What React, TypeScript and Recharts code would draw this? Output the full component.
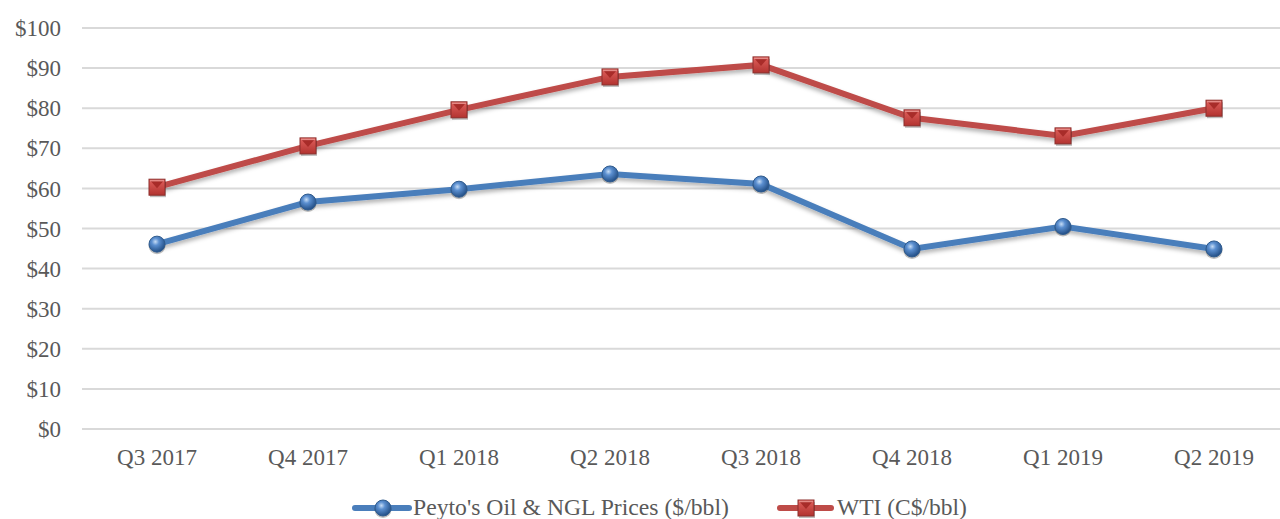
import { CartesianGrid, Legend, Line, LineChart, XAxis, YAxis } from "recharts"

const quarters = [
  "Q3 2017",
  "Q4 2017",
  "Q1 2018",
  "Q2 2018",
  "Q3 2018",
  "Q4 2018",
  "Q1 2019",
  "Q2 2019",
]
const peytoPrices = [46.1, 56.6, 59.8, 63.6, 61.1, 44.9, 50.5, 44.9]
const wtiPrices = [60.3, 70.6, 79.6, 87.8, 90.8, 77.6, 73.1, 80.0]
const priceTicks = [0, 10, 20, 30, 40, 50, 60, 70, 80, 90, 100]

const PEYTO_NAME = "Peyto's Oil & NGL Prices ($/bbl)"
const WTI_NAME = "WTI (C$/bbl)"

const data = quarters.map((quarter, i) => ({
  quarter,
  peyto: peytoPrices[i],
  wti: wtiPrices[i],
}))

const FONT = '"Liberation Serif", "Times New Roman", serif'
const TEXT = "#595959"
const BLUE = "#4a7ebb"
const RED = "#be4b48"

function Sphere({ cx, cy }: { cx: number; cy: number }) {
  return (
    <g>
      <circle cx={cx} cy={cy + 1.5} r={8.5} fill="rgba(0,0,0,0.25)" />
      <circle cx={cx} cy={cy} r={8} fill="url(#sphereFill)" stroke="#2f5b8e" strokeWidth={1} />
    </g>
  )
}

function Pyramid({ cx, cy }: { cx: number; cy: number }) {
  const s = 8
  return (
    <g>
      <rect x={cx - s + 1} y={cy - s + 2} width={2 * s} height={2 * s} fill="rgba(0,0,0,0.25)" />
      <rect x={cx - s} y={cy - s} width={2 * s} height={2 * s} fill="url(#squareFill)" stroke="#8c2f2c" strokeWidth={1} />
      <polygon
        points={`${cx - s + 1},${cy - s + 1} ${cx + s - 1},${cy - s + 1} ${cx},${cy + 1}`}
        fill="#a82c29"
      />
      <line x1={cx - s + 1} y1={cy - s + 1.5} x2={cx + s - 1} y2={cy - s + 1.5} stroke="#e58a86" strokeWidth={1.5} />
    </g>
  )
}

function ChartLegend() {
  return (
    <svg width={1280} height={40} style={{ display: "block" }}>
      <line x1={355} y1={29} x2={409} y2={29} stroke={BLUE} strokeWidth={6} strokeLinecap="round" />
      <Sphere cx={383} cy={29} />
      <text x={413} y={36} fontFamily={FONT} fontSize={23.7} fill={TEXT}>
        {PEYTO_NAME}
      </text>
      <line x1={780} y1={29} x2={831} y2={29} stroke={RED} strokeWidth={6} strokeLinecap="round" />
      <Pyramid cx={806} cy={29} />
      <text x={837} y={36} fontFamily={FONT} fontSize={23.5} fill={TEXT}>
        {WTI_NAME}
      </text>
    </svg>
  )
}

export default function App() {
  return (
    <div
      style={{
        position: "absolute",
        left: 0,
        top: 0,
        width: 1280,
        height: 519,
        overflow: "hidden",
        background: "#fff",
      }}
    >
      <LineChart
        width={1300}
        height={519}
        data={data}
        margin={{ top: 28, right: 11, left: 0, bottom: 0 }}
      >
        <defs>
          <radialGradient id="sphereFill" cx="40%" cy="35%" r="65%">
            <stop offset="0%" stopColor="#c6dcf5" />
            <stop offset="35%" stopColor="#5b8fd0" />
            <stop offset="100%" stopColor="#234f86" />
          </radialGradient>
          <linearGradient id="squareFill" x1="0" y1="0" x2="0" y2="1">
            <stop offset="0%" stopColor="#e0605c" />
            <stop offset="100%" stopColor="#b23330" />
          </linearGradient>
          <filter id="lineShadow" x="-5%" y="-20%" width="110%" height="140%">
            <feDropShadow dx="0" dy="3" stdDeviation="2" floodColor="#000" floodOpacity="0.3" />
          </filter>
        </defs>
        <CartesianGrid vertical={false} stroke="#d9d9d9" strokeWidth={2} />
        <XAxis
          dataKey="quarter"
          height={50}
          padding={{ left: 75, right: 75 }}
          axisLine={false}
          tickLine={false}
          tickMargin={14}
          tick={{ fill: TEXT, fontSize: 23, fontFamily: FONT }}
          interval={0}
        />
        <YAxis
          width={82}
          domain={[0, 100]}
          ticks={priceTicks}
          tickFormatter={(v: number) => `$${v}`}
          axisLine={false}
          tickLine={false}
          tickMargin={15}
          tick={{ fill: TEXT, fontSize: 23, fontFamily: FONT }}
        />
        <Legend
          verticalAlign="bottom"
          height={40}
          wrapperStyle={{ left: 0, width: 1280, height: 40 }}
          content={() => <ChartLegend />}
        />
        <Line
          name={PEYTO_NAME}
          dataKey="peyto"
          stroke={BLUE}
          strokeWidth={6}
          filter="url(#lineShadow)"
          dot={(p: any) => <Sphere key={`p-${p.index}`} cx={p.cx} cy={p.cy} />}
          activeDot={false}
          isAnimationActive={false}
        />
        <Line
          name={WTI_NAME}
          dataKey="wti"
          stroke={RED}
          strokeWidth={6}
          filter="url(#lineShadow)"
          dot={(p: any) => <Pyramid key={`w-${p.index}`} cx={p.cx} cy={p.cy} />}
          activeDot={false}
          isAnimationActive={false}
        />
      </LineChart>
    </div>
  )
}
